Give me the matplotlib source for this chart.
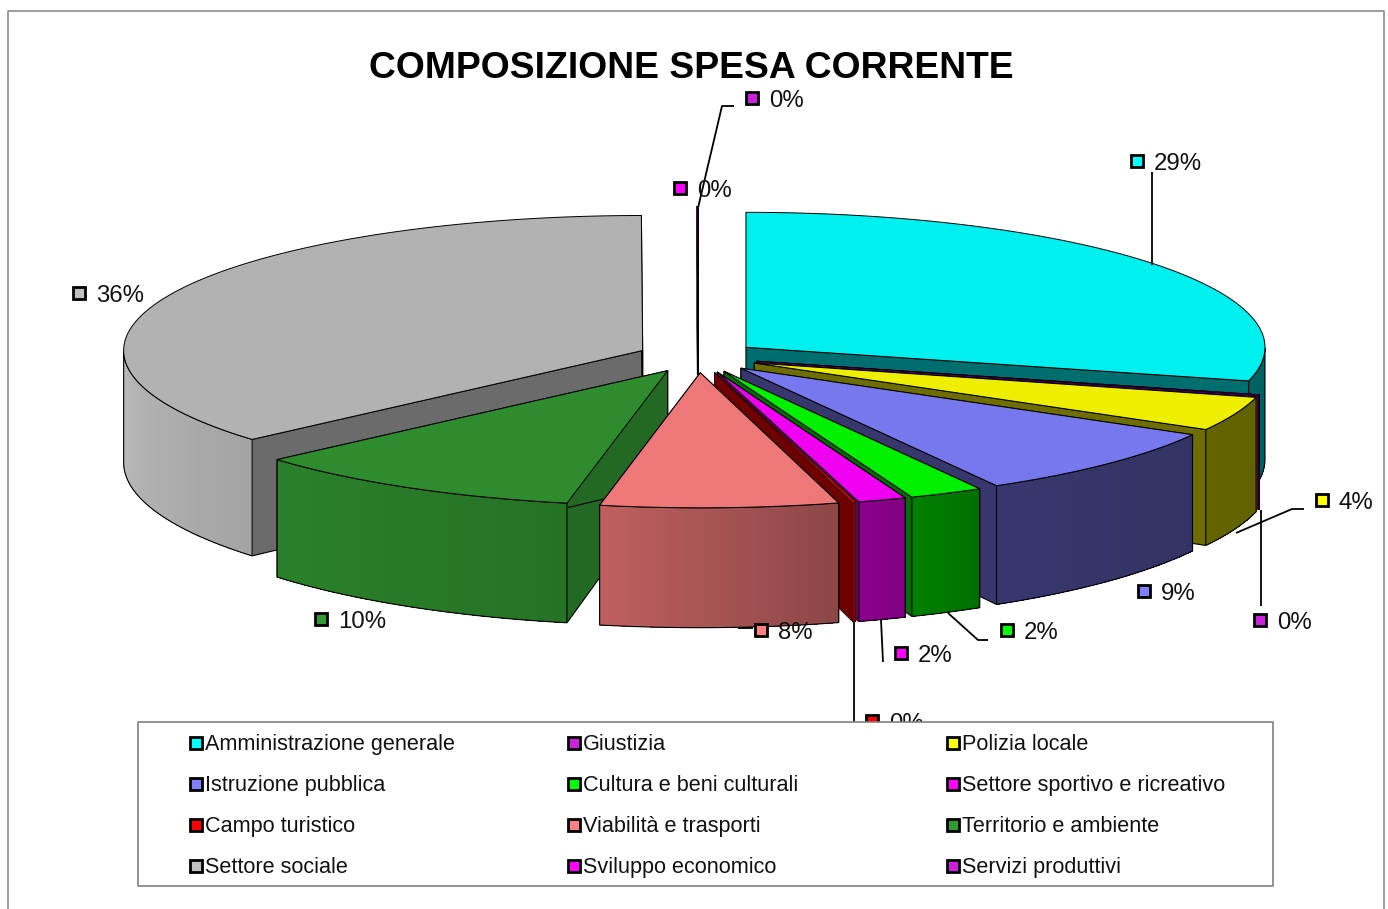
import numpy as np
import matplotlib
matplotlib.use("Agg")
import matplotlib.pyplot as plt
from matplotlib.colors import to_rgb
from matplotlib.patches import Polygon, Rectangle

plt.rcParams["font.family"] = ["Liberation Sans", "DejaVu Sans"]

categories = ["Amministrazione generale", "Giustizia", "Polizia locale",
              "Istruzione pubblica", "Cultura e beni culturali", "Settore sportivo e ricreativo",
              "Campo turistico", "Viabilità e trasporti", "Territorio e ambiente",
              "Settore sociale", "Sviluppo economico", "Servizi produttivi"]
values = [29.0, 0.1, 4.1, 8.6, 2.3, 1.5, 0.1, 7.4, 10.45, 36.4, 0.02, 0.02]
labels = ["29%", "0%", "4%", "9%", "2%", "2%", "0%", "8%", "10%", "36%", "0%", "0%"]
top_colors = ["#00F0F0", "#A000A0", "#EEEE00", "#7878EE", "#00F000", "#F000F0",
              "#F00000", "#EE7777", "#2E8C2E", "#B2B2B2", "#F000F0", "#A000A0"]
legend_colors = ["#00FFFF", "#CC22DD", "#FFFF00", "#8080FF", "#00FF00", "#FF00FF",
                 "#FF0000", "#FF8080", "#339933", "#C0C0C0", "#FF00FF", "#CC22DD"]

# where the value labels sit, marker x / y in pixels
label_x = [1137, 1260, 1322, 1144, 1007, 901, 872, 761, 321, 79, 680, 752]
label_y = [161, 620, 500, 591, 630, 653, 721, 630, 619, 293, 188, 98]
leaders = [[(1152, 172), (1152, 265)],
           [(1261, 510), (1261, 606)],
           [(1304, 509), (1292, 509), (1236, 533)],
           None,
           [(988, 640), (978, 640), (948, 613)],
           [(881, 620), (883, 662)],
           [(854, 622), (854, 722)],
           [(738, 628), (753, 628)],
           None, None, None,
           [(734, 106), (722, 106), (698, 208)]]

cx, cy = 698, 357
rx, ry = 519, 135
explode = 0.117


def depth(y):
    return 112 + 0.05 * (y - 350)


def shade(deg):
    return np.interp(deg, [90, 120, 150, 166, 193, 229, 270, 300],
                     [0.40, 0.42, 0.46, 0.60, 0.82, 0.92, 1.05, 1.1])


def scaled(color, f):
    return tuple(min(1, c * f) for c in to_rgb(color))


fig = plt.figure(figsize=(13.88, 9.09), dpi=100)
ax = fig.add_axes([0, 0, 1, 1])
ax.set_xlim(0, 1388)
ax.set_ylim(909, 0)
ax.axis("off")

# chart frame, open at the bottom
ax.plot([8, 8, 1384, 1384], [909, 11, 11, 909], color="#8c8c8c", lw=1.2)
ax.text(691, 78, "COMPOSIZIONE SPESA CORRENTE", fontsize=26.8, fontweight="bold",
        ha="center", va="baseline")

ends = np.cumsum(values) / np.sum(values) * 360
starts = np.r_[0, ends[:-1]]
mids = (starts + ends) / 2

# back to front, each slice paints over the ones behind it
z = 2
for i in np.argsort(-np.cos(np.radians(mids)), kind="stable"):
    a0, a1, mid = starts[i], ends[i], mids[i]
    color = top_colors[i]
    ax0 = cx + rx * explode * np.sin(np.radians(mid))
    ay0 = cy - ry * explode * np.cos(np.radians(mid))
    edge_w = 0.4 if values[i] < 0.2 else 0.8

    arc = np.radians(np.linspace(a0, a1, max(int(a1 - a0) * 3, 2)))
    xs = ax0 + rx * np.sin(arc)
    ys = ay0 - ry * np.cos(arc)

    patches = []
    # cut faces
    for ang, x1, y1 in ((a0, xs[0], ys[0]), (a1, xs[-1], ys[-1])):
        f = 0.46 if ang < 180 else 0.6
        if i == 8:
            f = 0.75
        quad = [(ax0, ay0), (x1, y1), (x1, y1 + depth(y1)), (ax0, ay0 + depth(ay0))]
        patches.append(ax.add_patch(Polygon(quad, closed=True, fc=scaled(color, f), ec="black", lw=edge_w, zorder=z)))
        z += 1

    # outer wall in strips so that the shading runs along it
    deg = np.degrees(arc)
    front = (deg >= 90) & (deg <= 270)
    if front.sum() > 1:
        fx, fy = xs[front], ys[front]
        for k in range(len(fx) - 1):
            strip = [(fx[k], fy[k]), (fx[k + 1], fy[k + 1]),
                     (fx[k + 1], fy[k + 1] + depth(fy[k + 1])), (fx[k], fy[k] + depth(fy[k]))]
            fc = scaled(color, shade(deg[front][k]))
            patches.append(ax.add_patch(Polygon(strip, closed=True, fc=fc, ec="none", antialiased=False, zorder=z)))
        z += 1
        outline = list(zip(fx, fy)) + list(zip(fx[::-1], (fy + depth(fy))[::-1]))
        ax.add_patch(Polygon(outline, closed=True, fill=False, ec="black", lw=edge_w, zorder=z))
        z += 1

    top = [(ax0, ay0)] + list(zip(xs, ys))
    ax.add_patch(Polygon(top, closed=True, fc=color, ec="black", lw=min(edge_w, 0.7), zorder=z))
    z += 1

    # the thin back slices stop at the centre of the pie
    if mid > 350:
        clip = Rectangle((0, 0), 1388, 375, transform=ax.transData)
        for p in patches:
            p.set_clip_path(clip)

z += 1
for i in range(len(values)):
    if leaders[i] is not None:
        px, py = zip(*leaders[i])
        ax.plot(px, py, color="black", lw=1.3, zorder=z, solid_capstyle="butt")
    ax.add_patch(Rectangle((label_x[i] - 6, label_y[i] - 6), 12, 12, fc=legend_colors[i],
                           ec="black", lw=2, zorder=z + 1))
    ax.text(label_x[i] + 17, label_y[i] + 9, labels[i], fontsize=17.3, color="#111111",
            ha="left", va="baseline", zorder=z + 1)

# legend box covers whatever label runs into it
z += 3
ax.add_patch(Rectangle((138, 722), 1135, 164, fc="white", ec="#808080", lw=1.2, zorder=z))
col_x = [196, 574, 953]
row_y = [743, 784, 825, 866]
for i, name in enumerate(categories):
    lx = col_x[i % 3]
    ly = row_y[i // 3]
    ax.add_patch(Rectangle((lx - 6, ly - 6), 12, 11.5, fc=legend_colors[i], ec="black", lw=2, zorder=z + 1))
    ax.text(lx + 9, ly + 7, name, fontsize=15.6, color="#111111", ha="left", va="baseline", zorder=z + 1)

fig.savefig("out.png", dpi=100, facecolor="white")
